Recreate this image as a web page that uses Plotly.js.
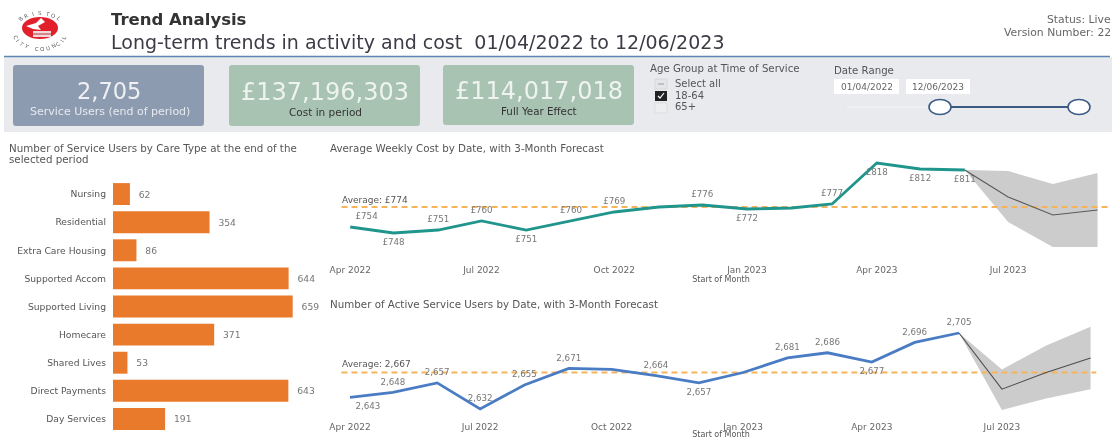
<!DOCTYPE html>
<html>
<head>
<meta charset="utf-8">
<script src="https://cdn.plot.ly/plotly-3.0.1.min.js"></script>
<style>html,body{margin:0;padding:0;background:#fff;overflow:hidden}#chart{width:1112px;height:439px;filter:blur(0.7px)}</style>
</head>
<body>
<div id="chart"></div>
<script>
// ---- data ----
const careTypes = ["Nursing","Residential","Extra Care Housing","Supported Accom","Supported Living","Homecare","Shared Lives","Direct Payments","Day Services"];
const careUsers = [62,354,86,644,659,371,53,643,191];

const months = ["2022-04-01","2022-05-01","2022-06-01","2022-07-01","2022-08-01","2022-09-01","2022-10-01","2022-11-01","2022-12-01","2023-01-01","2023-02-01","2023-03-01","2023-04-01","2023-05-01","2023-06-01"];
const forecastMonths = ["2023-06-01","2023-07-01","2023-08-01","2023-09-01"];

const weeklyCost = [754,748,751,760,751,760,769,774,776,772,773,777,818,812,811];
const costLabels = ["£754","£748","£751","£760","£751","£760","£769","","£776","£772","","£777","£818","£812","£811"];
const costLabelPos = ["top right","bottom center","top center","top center","bottom center","top center","top center","top center","top center","bottom center","top center","top center","bottom center","bottom center","bottom center"];
const costForecast = [811,784,766,771];
const costUpper = [811,810,797,808];
const costLower = [811,759,734,734];
const costAverage = 774;

const activeUsers = [2643,2648,2657,2632,2655,2671,2670,2664,2657,2667,2681,2686,2677,2696,2705];
const userLabels = ["2,643","2,648","2,657","2,632","2,655","2,671","","2,664","2,657","","2,681","2,686","2,677","2,696","2,705"];
const userLabelPos = ["bottom right","top center","top center","top center","top center","top center","top center","top center","bottom center","top center","top center","top center","bottom center","top center","top center"];
const userForecast = [2705,2651,2667,2681];
const userUpper = [2705,2670,2693,2711];
const userLower = [2705,2631,2642,2651];
const userAverage = 2667;

const tickDates = ["2022-04-01","2022-07-01","2022-10-01","2023-01-01","2023-04-01","2023-07-01"];
const tickLabels = ["Apr 2022","Jul 2022","Oct 2022","Jan 2023","Apr 2023","Jul 2023"];

// ---- page geometry helpers ----
const W = 1112, H = 439, FONT = '"DejaVu Sans", sans-serif';
const px = x => x / W, py = y => 1 - y / H;
const rect = (x0,y0,x1,y1,fill,line) => ({type:'rect',xref:'paper',yref:'paper',layer:'below',x0:px(x0),x1:px(x1),y0:py(y0),y1:py(y1),fillcolor:fill,line:line||{width:0}});
const oval = (cx,cy,rx,ry,fill,line) => ({type:'circle',xref:'paper',yref:'paper',layer:'below',x0:px(cx-rx),x1:px(cx+rx),y0:py(cy+ry),y1:py(cy-ry),fillcolor:fill,line:line||{width:0}});
const poly = (pts,fill,line) => ({type:'path',xref:'paper',yref:'paper',layer:'below',path:pts.map((p,i)=>(i?'L':'M')+px(p[0])+','+py(p[1])).join(' ')+(fill?' Z':''),fillcolor:fill||'rgba(0,0,0,0)',line:line||{width:0}});
const seg = (x0,y0,x1,y1,color,width) => ({type:'line',xref:'paper',yref:'paper',layer:'below',x0:px(x0),x1:px(x1),y0:py(y0),y1:py(y1),line:{color:color,width:width}});
const round = (x0,y0,x1,y1,r,fill) => ({type:'path',xref:'paper',yref:'paper',layer:'below',fillcolor:fill,line:{width:0},
  path:`M${px(x0+r)},${py(y0)} L${px(x1-r)},${py(y0)} Q${px(x1)},${py(y0)} ${px(x1)},${py(y0+r)} L${px(x1)},${py(y1-r)} Q${px(x1)},${py(y1)} ${px(x1-r)},${py(y1)} L${px(x0+r)},${py(y1)} Q${px(x0)},${py(y1)} ${px(x0)},${py(y1-r)} L${px(x0)},${py(y0+r)} Q${px(x0)},${py(y0)} ${px(x0+r)},${py(y0)} Z`});
const label = (x,y,text,size,color,anchor,extra) => Object.assign({xref:'paper',yref:'paper',x:px(x),y:py(y),text:text,showarrow:false,xanchor:anchor||'left',yanchor:'middle',font:{family:FONT,size:size,color:color},borderpad:0,borderwidth:0},extra||{});

// ---- traces ----
const bandColor = '#cccccc', avgColor = '#f5b45c', GREY = '#777777';
const avgLine = {color:avgColor,width:1.8,dash:'6px,4px'};
const hiddenMarker = {size:7,color:'rgba(0,0,0,0)'};
const traces = [
  {type:'bar',orientation:'h',x:careUsers,y:careTypes,xaxis:'x',yaxis:'y',marker:{color:'#e97a2b'},text:careUsers.map(v=>'\u00a0\u00a0'+v),textposition:'outside',cliponaxis:false,textfont:{family:FONT,size:9.2,color:GREY}},

  {type:'scatter',mode:'lines',x:forecastMonths.concat(forecastMonths.slice().reverse()),y:costUpper.concat(costLower.slice().reverse()),fill:'toself',fillcolor:bandColor,line:{width:0},xaxis:'x2',yaxis:'y2'},
  {type:'scatter',mode:'lines',x:["2022-03-26","2023-09-09"],y:[costAverage,costAverage],line:avgLine,xaxis:'x2',yaxis:'y2'},
  {type:'scatter',mode:'lines+markers+text',x:months,y:weeklyCost,text:costLabels,textposition:costLabelPos,textfont:{family:FONT,size:8.7,color:GREY},cliponaxis:false,marker:hiddenMarker,line:{color:'#1f958c',width:2.8},xaxis:'x2',yaxis:'y2'},
  {type:'scatter',mode:'lines',x:forecastMonths,y:costForecast,line:{color:'#5a5a5a',width:1.1},xaxis:'x2',yaxis:'y2'},

  {type:'scatter',mode:'lines',x:forecastMonths.concat(forecastMonths.slice().reverse()),y:userUpper.concat(userLower.slice().reverse()),fill:'toself',fillcolor:bandColor,line:{width:0},xaxis:'x3',yaxis:'y3'},
  {type:'scatter',mode:'lines',x:["2022-03-26","2023-09-05"],y:[userAverage,userAverage],line:avgLine,xaxis:'x3',yaxis:'y3'},
  {type:'scatter',mode:'lines+markers+text',x:months,y:activeUsers,text:userLabels,textposition:userLabelPos,textfont:{family:FONT,size:8.7,color:GREY},cliponaxis:false,marker:hiddenMarker,line:{color:'#4a7cc4',width:2.8},xaxis:'x3',yaxis:'y3'},
  {type:'scatter',mode:'lines',x:forecastMonths,y:userForecast,line:{color:'#4d4d4d',width:1.1},xaxis:'x3',yaxis:'y3'}
];

// ---- logo lettering (real letters round a ring) ----
function ring(text, startDeg, stepDeg, bottom){
  return text.split('').map((c,i)=>{
    const a = (startDeg + i*stepDeg) * Math.PI/180;
    const x = 40 + 26*Math.sin(a), y = 31 - 18*Math.cos(a);
    return label(x,y,c,5.5,'#5f5f5f','center',{textangle:bottom ? (startDeg+i*stepDeg-180) : (startDeg+i*stepDeg)});
  });
}

const dateAxis = (standoff, range, anchor) => ({
  domain:[px(330),px(1112)],range:range,type:'date',anchor:anchor,
  tickmode:'array',tickvals:tickDates,ticktext:tickLabels,showgrid:false,zeroline:false,showline:false,ticks:'',
  tickfont:{family:FONT,size:9,color:'#666'},
  title:{text:'Start of Month',font:{family:FONT,size:8,color:'#555'},standoff:standoff}
});

const layout = {
  width:W,height:H,margin:{l:0,r:0,t:0,b:0},paper_bgcolor:'#fff',plot_bgcolor:'rgba(0,0,0,0)',showlegend:false,hovermode:false,bargap:0.22,
  xaxis:{domain:[px(113),px(330)],range:[0,217/0.2727],showgrid:false,zeroline:false,showticklabels:false,ticks:'',anchor:'y'},
  yaxis:{domain:[py(433),py(180)],type:'category',autorange:'reversed',showgrid:false,zeroline:false,showline:false,ticks:'',ticklabelstandoff:6,tickfont:{family:FONT,size:9.2,color:'#555'},anchor:'x'},
  xaxis2:dateAxis(1,["2022-03-18","2023-09-11"],'y2'),
  yaxis2:{domain:[py(263),py(150)],range:[981-263,981-150],showgrid:false,zeroline:false,showline:false,showticklabels:false,ticks:'',anchor:'x2'},
  xaxis3:dateAxis(8,["2022-03-18","2023-09-16"],'y3'),
  yaxis3:{domain:[py(420),py(305)],range:[2705-(420-333)/1.04,2705+(333-305)/1.04],showgrid:false,zeroline:false,showline:false,showticklabels:false,ticks:'',anchor:'x3'},
  shapes:[
    rect(4,57,1112,132,'#e8eaee'),
    seg(4,56.5,1110,56.5,'#5d86b5',1.5),
    round(13,65,204,126,3,'#8d9bb0'),
    round(229,65,420,126,3,'#a8c3b2'),
    round(443,65,634,125,3,'#a8c3b2'),
    // logo
    oval(40,28,18,11,'#e2202c'),
    poly([[26,26],[36,23],[41,18],[45,22],[38,26],[41,30],[33,29]],'#ffffff'),
    rect(33,31,51,37,'#f3d9da'),
    seg(33,34,51,34,'#b5333b',1),
    // age-group slicer
    rect(655,79,667,89,'#e4e5e8',{color:'#d8d8d8',width:1}),
    seg(658,84,664,84,'#b5b5b5',1.5),
    rect(655,91,667,101,'#222222'),
    poly([[658,96],[660,98],[664,93]],null,{color:'#ffffff',width:1.2}),
    rect(655,103,667,113,'#eceef0',{color:'#dddddd',width:1}),
    // date slicer
    rect(834,79,899,94,'#ffffff'),
    rect(906,79,970,94,'#ffffff'),
    seg(847,107,930,107,'#f2f2f4',1.5),
    seg(940,107,1079,107,'#3b5b85',2),
    oval(940,107,11,7.5,'#ffffff',{color:'#3b5b85',width:1.6}),
    oval(1079,107,11,7.5,'#ffffff',{color:'#3b5b85',width:1.6})
  ],
  annotations:[
    label(111,20,'<b>Trend Analysis</b>',16.5,'#333333'),
    label(111,42,'Long-term trends in activity and cost&nbsp;&nbsp;01/04/2022 to 12/06/2023',19,'#3c3c46'),
    label(1111,20,'Status: Live',10.8,'#666','right'),
    label(1111,32,'Version Number: 22',10.8,'#666','right'),

    label(109,91,'2,705',22.5,'#eef0f4','center'),
    label(110,112,'Service Users (end of period)',11,'#e6e9ef','center'),
    label(325,92,'£137,196,303',24,'#eef3ef','center'),
    label(325,112,'Cost in period',10.5,'#333','center'),
    label(539,91,'£114,017,018',24,'#eef3ef','center'),
    label(539,111,'Full Year Effect',10.3,'#333','center'),

    label(650,68,'Age Group at Time of Service',10.2,'#555'),
    label(675,83,'Select all',10,'#555'),
    label(675,95,'18-64',10,'#555'),
    label(675,107,'65+',10,'#555'),
    label(834,70,'Date Range',10.2,'#555'),
    label(866.5,87,'01/04/2022',9,'#666','center'),
    label(938,87,'12/06/2023',9,'#666','center'),

    label(9,148,'Number of Service Users by Care Type at the end of the',10.3,'#555'),
    label(9,159,'selected period',10.3,'#555'),
    label(330,148,'Average Weekly Cost by Date, with 3-Month Forecast',10.3,'#555'),
    label(330,304,'Number of Active Service Users by Date, with 3-Month Forecast',10.3,'#555'),
    label(342,200,'Average: £774',9,'#555'),
    label(342,364,'Average: 2,667',9,'#555')
  ].concat(ring('BRISTOL',-48,16,false), ring('CITY COUNCIL',250,-12.7,true))
};

Plotly.newPlot('chart',traces,layout,{displayModeBar:false,staticPlot:true,responsive:false});
</script>
</body>
</html>
